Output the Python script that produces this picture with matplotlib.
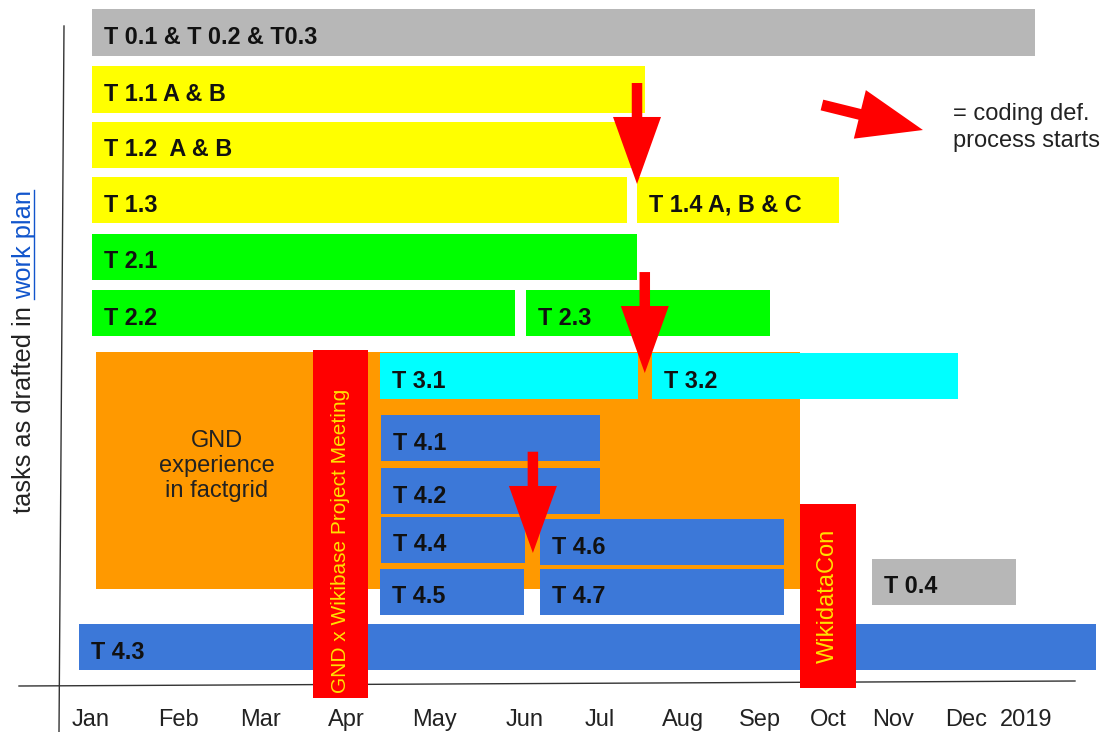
import matplotlib
matplotlib.use("Agg")
import matplotlib.pyplot as plt
from matplotlib.patches import Rectangle, Polygon
from matplotlib.transforms import IdentityTransform, blended_transform_factory
import numpy as np

plt.rcParams['font.family'] = ['Liberation Sans', 'DejaVu Sans']

# ---------------- data (x in months from January, y in row positions) ----------------
task_labels = ["T 0.1 & T 0.2 & T0.3", "T 1.1 A & B", "T 1.2  A & B", "T 1.3",
               "T 1.4 A, B & C", "T 2.1", "T 2.2", "T 2.3", "T 3.1", "T 3.2",
               "T 4.1", "T 4.2", "T 4.4", "T 4.6", "T 4.5", "T 4.7", "T 4.3", "T 0.4"]
task_start = [0.03, 0.03, 0.03, 0.03, 7.04, 0.03, 0.03, 5.61, 3.73, 7.23,
              3.75, 3.75, 3.75, 5.79, 3.73, 5.79, -0.14, 10.06]
task_end = [12.16, 7.14, 6.98, 6.91, 9.64, 7.04, 5.47, 8.75, 7.05, 11.17,
            6.56, 6.56, 5.60, 8.93, 5.59, 8.93, 12.95, 11.92]
task_row = [0.0, 1.01, 1.99, 2.97, 2.97, 3.97, 4.97, 4.97, 6.08, 6.08,
            7.18, 8.12, 8.98, 9.02, 9.90, 9.90, 10.88, 9.72]
task_group = ["WP0", "WP1", "WP1", "WP1", "WP1", "WP2", "WP2", "WP2", "WP3", "WP3",
              "WP4", "WP4", "WP4", "WP4", "WP4", "WP4", "WP4", "WP0"]

gnd_label = "GND\nexperience\nin factgrid"
gnd_start, gnd_end = 0.08, 9.14
gnd_top, gnd_bottom = 5.65, 9.85

event_labels = ["GND x Wikibase Project Meeting", "WikidataCon"]
event_start = [2.87, 9.14]
event_end = [3.58, 9.86]
event_top = [5.62, 8.35]
event_bottom = [11.78, 11.60]

# arrows: "coding def. process starts"
arrow_x_tail = [7.04, 7.14, 5.70]
arrow_y_tail = [0.894, 4.24, 7.42]
arrow_x_tip = [7.04, 7.14, 5.70]
arrow_y_tip = [2.681, 6.027, 9.212]

legend_arrow_tail = (9.42, 1.283)
legend_arrow_tip = (10.72, 1.726)
legend_lines = ["= coding def.", "process starts"]
legend_x = 11.11
legend_rows = [1.549, 2.027]

month_labels = ["Jan", "Feb", "Mar", "Apr", "May", "Jun", "Jul", "Aug",
                "Sep", "Oct", "Nov", "Dec", "2019"]
month_pos = [0.007, 1.14, 2.20, 3.30, 4.44, 5.60, 6.56, 7.63, 8.62, 9.50,
             10.33, 11.28, 12.05]

# ---------------- styles ----------------
group_colors = {"WP0": "#B7B7B7", "WP1": "#FFFF00", "WP2": "#00FF00",
                "WP3": "#00FFFF", "WP4": "#3C78D8"}
orange = "#FF9900"
red = "#FF0000"
event_text_color = "#FFE100"
bar_h = 0.82

fig = plt.figure(figsize=(11.07, 7.32), dpi=100)
ax = fig.add_axes([0, 0, 1, 1])
ax.set_xlim(-90 / 77.7, (1107 - 90) / 77.7)
ax.set_ylim((732 - 32.5) / 56.5, -32.5 / 56.5)
ax.axis("off")

# axis lines (hand-drawn look)
ax.plot([64 / 1107, 59 / 1107], [1 - 26 / 732, 0], transform=ax.transAxes,
        color="#333333", lw=1.0, zorder=1)
ax.plot([19 / 1107, 1075 / 1107], [1 - 686 / 732, 1 - 681 / 732], transform=ax.transAxes,
        color="#333333", lw=1.0, zorder=1)

# orange GND block
ax.add_patch(Rectangle((gnd_start, gnd_top), gnd_end - gnd_start, gnd_bottom - gnd_top,
                       facecolor=orange, edgecolor="none", zorder=2))
ax.text((gnd_start + 3.73) / 2 - 0.27, (gnd_top + gnd_bottom) / 2 - 0.08, gnd_label,
        ha="center", va="center", fontsize=17, color="#222222", linespacing=1.17, zorder=3)

# task bars
for lbl, s, e, r, g in zip(task_labels, task_start, task_end, task_row, task_group):
    ax.add_patch(Rectangle((s, r - bar_h / 2), e - s, bar_h, facecolor=group_colors[g],
                           edgecolor="none", zorder=3))
    ax.annotate(lbl, xy=(s, r), xytext=(8.7, -8.3), textcoords="offset points",
                ha="left", va="baseline", fontsize=16.8, fontweight="bold",
                color="#111111", zorder=4)

# red event boxes
event_sizes = [15, 17]
for lbl, s, e, t, b, fs in zip(event_labels, event_start, event_end, event_top,
                               event_bottom, event_sizes):
    ax.add_patch(Rectangle((s, t), e - s, b - t, facecolor=red, edgecolor="none", zorder=5))
    ax.text((s + e) / 2, (t + b) / 2 + (0.3 if fs == 15 else 0.0), lbl, rotation=90,
            ha="center", va="center", fontsize=fs, color=event_text_color, zorder=6)


def draw_arrow(p0, p1, shaft_w, head_w, head_l):
    a = ax.transData.transform(p0)
    b = ax.transData.transform(p1)
    d = b - a
    L = np.hypot(*d)
    u = d / L
    n = np.array([-u[1], u[0]])
    base = b - u * head_l
    pts = [a + n * shaft_w / 2, base + n * shaft_w / 2, base + n * head_w / 2, b,
           base - n * head_w / 2, base - n * shaft_w / 2, a - n * shaft_w / 2]
    ax.add_patch(Polygon(pts, closed=True, facecolor=red, edgecolor="none",
                         transform=IdentityTransform(), zorder=8))


for xt, yt, xh, yh in zip(arrow_x_tail, arrow_y_tail, arrow_x_tip, arrow_y_tip):
    draw_arrow((xt, yt), (xh, yh), 10.5, 48, 67)
draw_arrow(legend_arrow_tail, legend_arrow_tip, 11, 50, 65)

for line, r in zip(legend_lines, legend_rows):
    ax.text(legend_x, r, line, ha="left", va="baseline", fontsize=17, color="#222222")

# month labels
trans = blended_transform_factory(ax.transData, ax.transAxes)
for lbl, p in zip(month_labels, month_pos):
    ax.text(p, 1 - 726 / 732, lbl, transform=trans, ha="center", va="baseline",
            fontsize=17, color="#222222")

# y label with link-styled part
fig.canvas.draw()
rend = fig.canvas.get_renderer()
t1 = ax.text(31 / 1107, 1 - 513 / 732, "tasks as drafted in ", transform=ax.transAxes,
             rotation=90, rotation_mode="anchor", ha="left", va="baseline",
             fontsize=18.3, color="#222222")
e1 = t1.get_window_extent(rend)
xd = 31
t2 = ax.text(xd, e1.y1, "work plan", transform=IdentityTransform(), rotation=90,
             rotation_mode="anchor", ha="left", va="baseline", fontsize=18.3,
             color="#1155CC")
e2 = t2.get_window_extent(rend)
ax.plot([xd + 2.5, xd + 2.5], [e2.y0, e2.y1], transform=IdentityTransform(),
        color="#1155CC", lw=1.0)

fig.savefig("out.png", dpi=100)
